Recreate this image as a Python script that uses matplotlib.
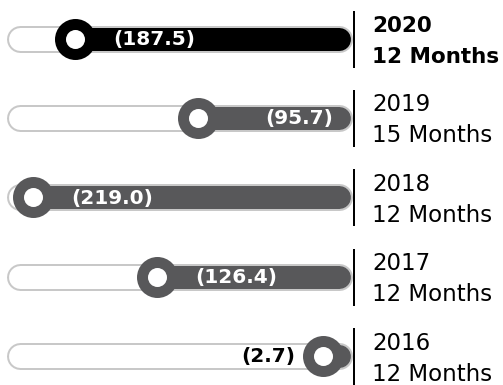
import matplotlib
matplotlib.use("Agg")
import matplotlib.pyplot as plt
import matplotlib.transforms as mtransforms

# Net result per period (shown in parentheses, i.e. losses)
years = ["2020", "2019", "2018", "2017", "2016"]
periods = ["12 Months", "15 Months", "12 Months", "12 Months", "12 Months"]
losses = [187.5, 95.7, 219.0, 126.4, 2.7]
labels = ["(187.5)", "(95.7)", "(219.0)", "(126.4)", "(2.7)"]

# Styling per row
bar_colors = ["#000000", "#58585a", "#58585a", "#58585a", "#58585a"]
label_place = ["after", "end", "after", "after", "before"]
label_colors = ["white", "white", "white", "white", "black"]
highlight = [True, False, False, False, False]

DPI = 100
W, H = 503, 385
PX = 72.0 / DPI  # points per pixel

fig = plt.figure(figsize=(W / DPI, H / DPI), dpi=DPI)
ax = fig.add_axes([0, 0, 1, 1])
ax.set_axis_off()

# Horizontal scale: value axis runs right-to-left
ax.set_xlim(243.8, -132.1)
ax.set_ylim(4.364, -0.485)
units_per_px = (243.8 + 132.1) / W

track_lo, track_hi = 229.0, -9.2   # centres of the rounded track ends
track_w = 27   # px, outer
inner_w = 23   # px, inner

rows = list(range(len(years)))
right = mtransforms.blended_transform_factory(ax.transAxes, ax.transData)

for i in rows:
    # track outline and white interior
    ax.plot([track_lo, track_hi], [i, i], color="#c8c8c8", lw=track_w * PX,
            solid_capstyle="round", zorder=1)
    ax.plot([track_lo, track_hi], [i, i], color="white", lw=inner_w * PX,
            solid_capstyle="round", zorder=2)
    # filled portion from the value to the end of the track
    ax.plot([losses[i], track_hi], [i, i], color=bar_colors[i], lw=inner_w * PX,
            solid_capstyle="round", zorder=3)
    # knob
    ax.scatter([losses[i]], [i], s=(41 * PX) ** 2, color=bar_colors[i],
               zorder=4, linewidths=0)
    ax.scatter([losses[i]], [i], s=(19 * PX) ** 2, color="white",
               zorder=5, linewidths=0)

    # value label
    if label_place[i] == "after":
        x, ha = losses[i] - 38 * units_per_px, "left"
    elif label_place[i] == "end":
        x, ha = track_hi + 5 * units_per_px, "right"
    else:
        x, ha = losses[i] + 27 * units_per_px, "right"
    ax.text(x, i + 0.01, labels[i], ha=ha, va="center", color=label_colors[i],
            fontsize=14.5, fontweight="bold", zorder=6)

    # separator and period caption
    ax.plot([354 / W, 354 / W], [i - 28 / 79.4, i + 29 / 79.4], color="black",
            lw=2 * PX, transform=right, solid_capstyle="butt")
    weight = "bold" if highlight[i] else "normal"
    size = 15.5 if highlight[i] else 16.5
    ax.annotate(years[i], xy=(372 / W, i), xycoords=right,
                xytext=(0, 6.5 * PX), textcoords="offset points",
                ha="left", va="baseline", fontsize=size, fontweight=weight)
    ax.annotate(periods[i], xy=(372 / W, i), xycoords=right,
                xytext=(0, -24.5 * PX), textcoords="offset points",
                ha="left", va="baseline", fontsize=size, fontweight=weight)

fig.savefig("out.png", dpi=DPI)
